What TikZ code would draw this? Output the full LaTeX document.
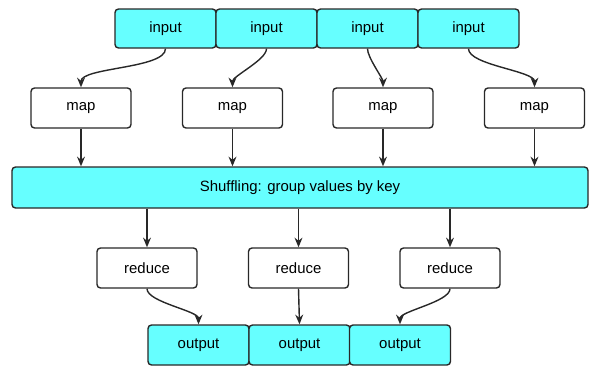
\documentclass[tikz,border=0pt]{standalone}
\usepackage{fontspec}
\setmainfont{Liberation Sans}
\usetikzlibrary{arrows.meta, positioning}
\definecolor{boxcyan}{RGB}{102, 255, 255}
\definecolor{edgegray}{RGB}{40, 40, 40}

\begin{document}
\begin{tikzpicture}[
    box/.style={rectangle, draw=edgegray, thick, rounded corners=2pt,
                minimum width=2.0cm, minimum height=0.8cm,
                align=center, font=\fontsize{8.5}{10}\selectfont},
    io/.style={box, fill=boxcyan, minimum width=2.02cm, minimum height=0.78cm},
    work/.style={box, fill=white},
    flow/.style={-{Stealth[length=5.5pt,width=4.5pt]}, thick, edgegray},
    curvy/.style={flow, out=-90, in=90, looseness=0.55}
]
\useasboundingbox (0,0) rectangle (11.84,-7.36);

%% Input splits
\node[io] (in1) at (3.31, -0.57) {input};
\node[io] (in2) at (5.33, -0.57) {input};
\node[io] (in3) at (7.35, -0.57) {input};
\node[io] (in4) at (9.37, -0.57) {input};

%% Map tasks
\node[work] (map1) at (1.62,  -2.16) {map};
\node[work] (map2) at (4.65,  -2.16) {map};
\node[work] (map3) at (7.66,  -2.16) {map};
\node[work] (map4) at (10.69, -2.16) {map};

%% Shuffle stage
\node[io, minimum width=11.52cm, minimum height=0.82cm] (shuf) at (6.0, -3.75) {Shuffling: group values by key};

%% Reduce tasks
\node[work] (red1) at (2.94, -5.36) {reduce};
\node[work] (red2) at (5.97, -5.36) {reduce};
\node[work] (red3) at (9.0,  -5.36) {reduce};

%% Outputs
\node[io, minimum height=0.8cm] (out1) at (3.97, -6.9) {output};
\node[io, minimum height=0.8cm] (out2) at (5.99, -6.9) {output};
\node[io, minimum height=0.8cm] (out3) at (8.0,  -6.9) {output};

%% input -> map
\draw[curvy] (in1.south) to (map1.north);
\draw[curvy] (in2.south) to (map2.north);
\draw[curvy] (in3.south) to (map3.north);
\draw[curvy] (in4.south) to (map4.north);

%% map -> shuffle
\draw[flow] (map1.south) -- (map1.south |- shuf.north);
\draw[flow] (map2.south) -- (map2.south |- shuf.north);
\draw[flow] (map3.south) -- (map3.south |- shuf.north);
\draw[flow] (map4.south) -- (map4.south |- shuf.north);

%% shuffle -> reduce
\draw[flow] (red1.north |- shuf.south) -- (red1.north);
\draw[flow] (red2.north |- shuf.south) -- (red2.north);
\draw[flow] (red3.north |- shuf.south) -- (red3.north);

%% reduce -> output
\draw[curvy] (red1.south) to (out1.north);
\draw[flow] (red2.south) -- (out2.north);
\draw[curvy] (red3.south) to (out3.north);

\end{tikzpicture}
\end{document}
